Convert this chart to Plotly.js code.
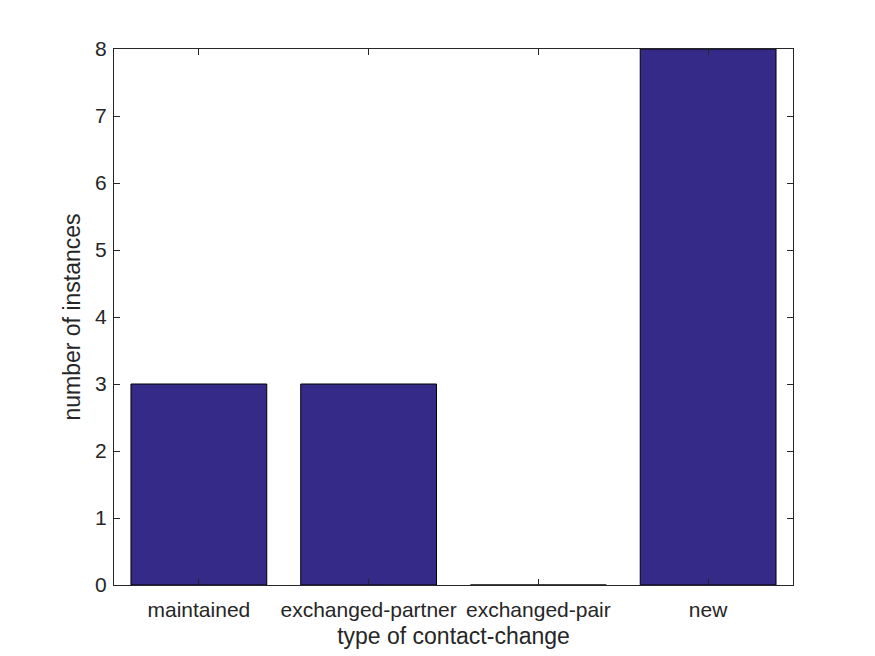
<!DOCTYPE html>
<html>
<head>
<meta charset="utf-8">
<script src="https://cdn.plot.ly/plotly-3.0.1.min.js"></script>
<style>body{margin:0;padding:0;background:#fff;} #chart{width:875px;height:656px;}</style>
</head>
<body>
<div id="chart"></div>
<script>
var categories = ["maintained", "exchanged-partner", "exchanged-pair", "new"];
var counts = [3, 3, 0, 8];
var yTicks = [0, 1, 2, 3, 4, 5, 6, 7, 8];

var trace = {
  type: "bar",
  x: [1, 2, 3, 4],
  y: counts,
  width: 0.8,
  marker: {color: "#352A87", line: {color: "#000000", width: 1}},
  hoverinfo: "none"
};

var FONT = "Liberation Sans, Arial, sans-serif";
var axisCommon = {
  showline: true, mirror: "ticks", linecolor: "#262626", linewidth: 1,
  ticks: "inside", ticklen: 6, tickwidth: 1, tickcolor: "#262626",
  showgrid: false, zeroline: false,
  tickfont: {family: FONT, size: 21, color: "#262626"}
};

var layout = {
  width: 875, height: 656,
  margin: {l: 114, r: 82, t: 49, b: 71},
  paper_bgcolor: "#ffffff", plot_bgcolor: "#ffffff",
  showlegend: false,
  xaxis: Object.assign({}, axisCommon, {
    range: [0.5, 4.5],
    tickmode: "array", tickvals: [1, 2, 3, 4], ticktext: categories,
    ticklabelstandoff: 6,
    title: {text: "type of contact-change", standoff: 7,
      font: {family: FONT, size: 23, color: "#262626"}}
  }),
  yaxis: Object.assign({}, axisCommon, {
    range: [0, 8],
    tickmode: "array", tickvals: yTicks, ticktext: yTicks.map(String),
    ticklabelstandoff: 2,
    title: {text: "number of instances", standoff: 8,
      font: {family: FONT, size: 23, color: "#262626"}}
  })
};

Plotly.newPlot("chart", [trace], layout, {displayModeBar: false, staticPlot: true});
</script>
</body>
</html>
